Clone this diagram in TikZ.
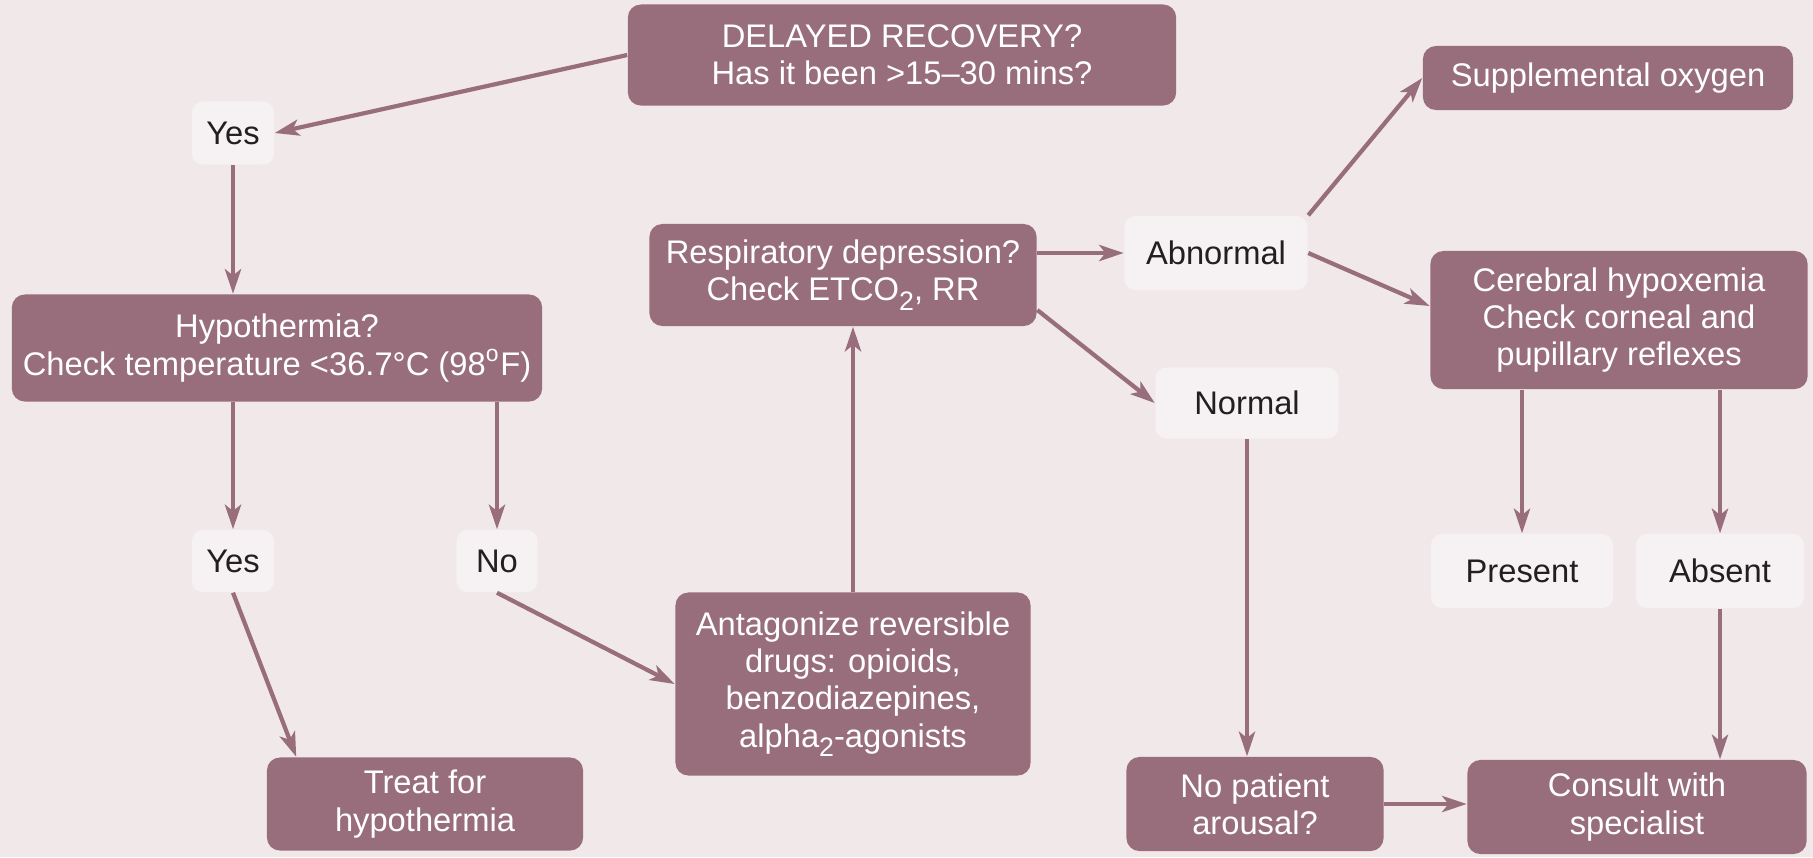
\documentclass[tikz,border=0pt]{standalone}
\usepackage{fontspec}
\setmainfont{Liberation Sans}
\usetikzlibrary{arrows.meta}
\definecolor{bgpink}{HTML}{F1E8E9}
\definecolor{mauve}{HTML}{986E7D}
\definecolor{pale}{HTML}{F6F1F2}
\definecolor{ink}{HTML}{231F20}
\newcommand{\fsz}{\fontsize{9.3}{10.6}\selectfont}
\newcommand{\lowtwo}{\raisebox{-0.55ex}{\fontsize{7.6}{8}\selectfont 2}}

\begin{document}
\begin{tikzpicture}[x=0.01cm,y=-0.01cm,>={Stealth[length=7pt,width=4.6pt,inset=1.8pt]},
  qbox/.style={rectangle, rounded corners=0.13cm, fill=mauve, text=white, align=center, inner sep=0pt, font=\fsz},
  abox/.style={rectangle, rounded corners=0.11cm, fill=pale, text=ink, align=center, inner sep=0pt, font=\fsz},
  link/.style={draw=mauve, line width=1.2pt}]

  \useasboundingbox (0,0) rectangle (1813,857);
  \fill[bgpink] (0,0) rectangle (1813,857);

  \begin{scope}

  % left branch
  \node[qbox, minimum width=5.48cm, minimum height=1.01cm] (q_delay) at (902,55) {DELAYED RECOVERY?\\Has it been >15--30 mins?};
  \node[abox, minimum width=0.82cm, minimum height=0.63cm] (a_yes1) at (233,133) {Yes};
  \node[qbox, minimum width=5.30cm, minimum height=1.07cm] (q_hypo) at (277,348) {Hypothermia?\\Check temperature <36.7°C (98\textsuperscript{o}F)};
  \node[abox, minimum width=0.82cm, minimum height=0.62cm] (a_yes2) at (233,561) {Yes};
  \node[abox, minimum width=0.81cm, minimum height=0.62cm] (a_no) at (497,561) {No};
  \node[qbox, minimum width=3.16cm, minimum height=0.93cm] (r_treat) at (425,804) {Treat for\\hypothermia};

  % middle
  \node[qbox, minimum width=3.55cm, minimum height=1.83cm] (r_antag) at (853,684) {Antagonize reversible\\drugs: opioids,\\benzodiazepines,\\alpha\lowtwo-agonists};
  \node[qbox, minimum width=3.87cm, minimum height=1.02cm] (q_resp) at (843,275) {Respiratory depression?\\Check ETCO\lowtwo, RR};
  \node[abox, minimum width=1.83cm, minimum height=0.74cm] (a_abn) at (1216,253) {Abnormal};
  \node[abox, minimum width=1.83cm, minimum height=0.71cm] (a_norm) at (1247,403) {Normal};

  % right branch
  \node[qbox, minimum width=3.70cm, minimum height=0.64cm] (r_oxy) at (1608,78) {Supplemental oxygen};
  \node[qbox, minimum width=3.77cm, minimum height=1.38cm] (q_cereb) at (1619,320) {Cerebral hypoxemia\\Check corneal and\\pupillary reflexes};
  \node[abox, minimum width=1.82cm, minimum height=0.74cm] (a_pres) at (1522,571) {Present};
  \node[abox, minimum width=1.68cm, minimum height=0.74cm] (a_abs) at (1720,571) {Absent};
  \node[qbox, minimum width=2.57cm, minimum height=0.94cm] (q_arous) at (1255,804) {No patient\\arousal?};
  \node[qbox, minimum width=3.39cm, minimum height=0.94cm] (r_consult) at (1637,807) {Consult with\\specialist};

  \draw[link,->] (q_delay.west) -- (a_yes1.east);
  \draw[link,->] (a_yes1.south) -- (a_yes1.south |- q_hypo.north);
  \draw[link,->] (a_yes2.north |- q_hypo.south) -- (a_yes2.north);
  \draw[link,->] (a_no.north |- q_hypo.south) -- (a_no.north);
  \draw[link,->] (a_yes2.south) -- ([xshift=0.3cm]r_treat.north west);
  \draw[link,->] (a_no.south) -- (r_antag.west);
  \draw[link,->] (r_antag.north) -- (r_antag.north |- q_resp.south);

  \draw[link,->] (q_resp.east |- a_abn.west) -- (a_abn.west);
  \draw[link,->] ([yshift=-0.35cm]q_resp.east) -- (a_norm.west);
  \draw[link,->] (a_abn.north east) -- (r_oxy.west);
  \draw[link,->] (a_abn.east) -- ([yshift=0.14cm]q_cereb.west);
  \draw[link,->] (a_pres.north |- q_cereb.south) -- (a_pres.north);
  \draw[link,->] (a_abs.north |- q_cereb.south) -- (a_abs.north);
  \draw[link,->] (a_norm.south) -- (a_norm.south |- q_arous.north);
  \draw[link,->] (a_abs.south) -- (a_abs.south |- r_consult.north);
  \draw[link,->] (q_arous.east) -- (q_arous.east -| r_consult.west);

  \end{scope}
\end{tikzpicture}
\end{document}
